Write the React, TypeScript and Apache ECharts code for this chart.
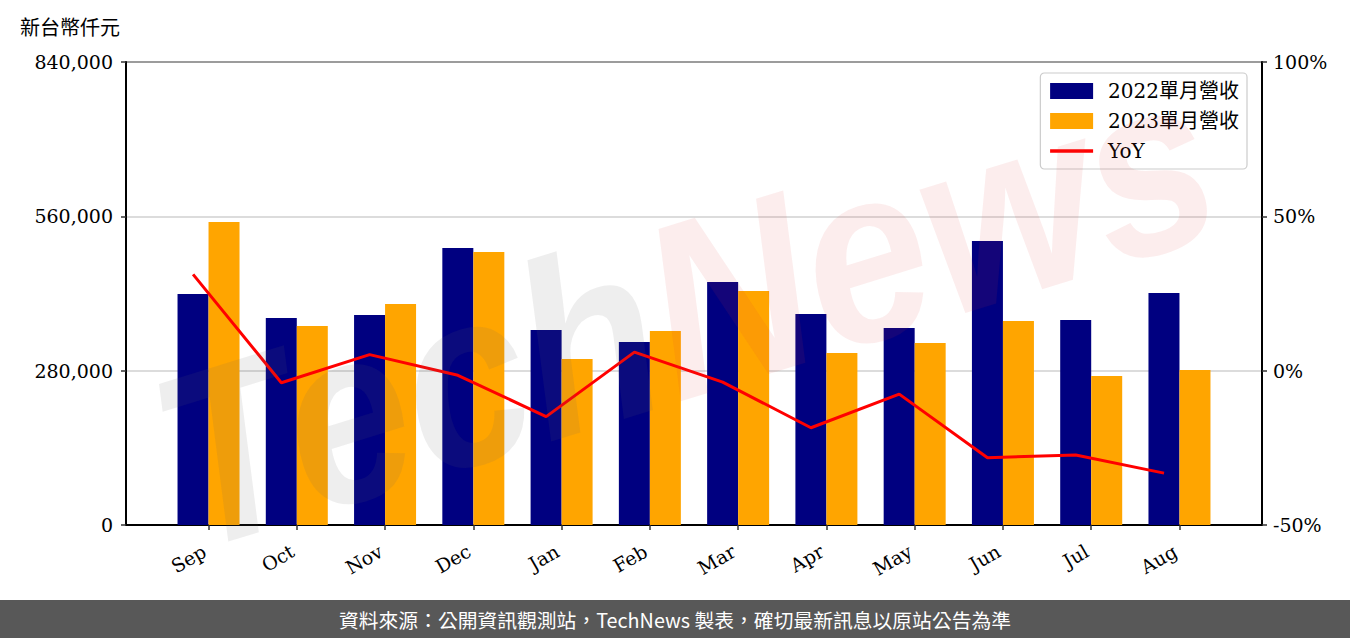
import React, { useEffect, useRef } from "react";
import * as echarts from "echarts";

const months = ["Sep", "Oct", "Nov", "Dec", "Jan", "Feb", "Mar", "Apr", "May", "Jun", "Jul", "Aug"];
const rev2022 = [419000, 375500, 381000, 502500, 353700, 332000, 440800, 382800, 357400, 515200, 371900, 420800];
const rev2023 = [549700, 361000, 400900, 495200, 301100, 351900, 424500, 312000, 330100, 370000, 270300, 281200];
const yoy = [31.2, -3.9, 5.2, -1.5, -14.9, 6.0, -3.7, -18.5, -7.6, -28.2, -27.3, -33.2];
const leftTicks = [0, 280000, 560000, 840000];
const rightTicks = [-50, 0, 50, 100];

const SERIF = "DejaVu Serif, 'Noto Sans CJK TC', serif";
const CJK = "'Noto Sans CJK TC', 'Noto Sans', sans-serif";

export default function App() {
  const ref = useRef<HTMLDivElement>(null);
  useEffect(() => {
    if (!ref.current) return;
    const chart = echarts.init(ref.current, undefined, { renderer: "svg" });
    const idx = months.map((_, i) => i);
    chart.setOption({
      animation: false,
      backgroundColor: "#fff",
      grid: {
        left: 126,
        right: 88,
        top: 62,
        bottom: 113,
        show: true,
        borderColor: "#000",
        borderWidth: 2,
        backgroundColor: "transparent",
      },
      legend: {
        orient: "vertical",
        right: 103,
        top: 73,
        padding: [8, 8, 8, 8],
        itemWidth: 43,
        itemHeight: 16,
        itemGap: 10,
        borderColor: "#ccc",
        borderWidth: 1.2,
        borderRadius: 4,
        backgroundColor: "rgba(255,255,255,0.85)",
        textStyle: { fontFamily: SERIF, fontSize: 20, color: "#000", padding: [0, 0, 0, 10] },
        data: [
          { name: "2022單月營收", icon: "rect" },
          { name: "2023單月營收", icon: "rect" },
          { name: "YoY", itemStyle: { opacity: 0 }, lineStyle: { width: 3.5, color: "#ff0000" } },
        ],
      },
      xAxis: {
        type: "value",
        min: -0.935,
        max: 11.935,
        splitLine: { show: false },
        axisLine: { show: true, onZero: false, lineStyle: { color: "#000", width: 2 } },
        axisTick: {
          show: true,
          customValues: idx,
          length: 5,
          lineStyle: { color: "#333", width: 1.5 },
        },
        axisLabel: {
          customValues: idx,
          rotate: 30,
          margin: 22,
          padding: [0, 5, 0, 0],
          fontFamily: SERIF,
          fontSize: 19,
          color: "#000",
          formatter: (v: number) => months[Math.round(v)] ?? "",
        },
      },
      yAxis: [
        {
          type: "value",
          min: 0,
          max: 840000,
          interval: 280000,
          axisLine: { show: true, onZero: false, lineStyle: { color: "#000", width: 2 } },
          axisTick: { show: true, length: 5, lineStyle: { color: "#333", width: 1.5 } },
          splitLine: { show: true, lineStyle: { color: "#d0d0d0", width: 1.6 } },
          axisLabel: {
            margin: 13,
            fontFamily: SERIF,
            fontSize: 19,
            color: "#000",
            customValues: leftTicks,
            formatter: (v: number) => v.toLocaleString("en-US"),
          },
        },
        {
          type: "value",
          min: -50,
          max: 100,
          interval: 50,
          position: "right",
          axisLine: { show: true, onZero: false, lineStyle: { color: "#000", width: 2 } },
          axisTick: { show: true, length: 5, lineStyle: { color: "#333", width: 1.5 } },
          splitLine: { show: false },
          axisLabel: {
            margin: 11,
            fontFamily: SERIF,
            fontSize: 19,
            color: "#000",
            customValues: rightTicks,
            formatter: (v: number) => `${v}%`,
          },
        },
      ],
      series: [
        {
          name: "2022單月營收",
          type: "bar",
          barWidth: 31,
          barGap: "0%",
          itemStyle: { color: "#000080" },
          data: idx.map((i) => [i, rev2022[i]]),
        },
        {
          name: "2023單月營收",
          type: "bar",
          barWidth: 31,
          barGap: "0%",
          itemStyle: { color: "#FFA500" },
          data: idx.map((i) => [i, rev2023[i]]),
        },
        {
          name: "YoY",
          type: "line",
          yAxisIndex: 1,
          symbol: "none",
          lineStyle: { color: "#ff0000", width: 3 },
          itemStyle: { color: "#ff0000" },
          z: 5,
          data: idx.map((i) => [i - 0.175, yoy[i]]),
        },
      ],
      graphic: [
        {
          type: "text",
          left: 20,
          top: 16,
          style: { text: "新台幣仟元", font: `20px ${CJK}`, fill: "#000" },
        },
        {
          type: "text",
          x: 685,
          y: 310,
          rotation: 0.3,
          scaleY: 1.12,
          silent: true,
          z: 50,
          style: {
            text: "{a|Tech}{b|News}",
            align: "center",
            verticalAlign: "middle",
            rich: {
              a: { fontSize: 222, fontStyle: "italic", fontWeight: "bold", fontFamily: "Liberation Sans", fill: "rgba(100,100,100,0.11)" },
              b: { fontSize: 222, fontStyle: "italic", fontWeight: "bold", fontFamily: "Liberation Sans", fill: "rgba(220,60,60,0.09)" },
            },
          },
        },
        {
          type: "rect",
          shape: { x: 0, y: 600, width: 1350, height: 38 },
          style: { fill: "#585858" },
          z: 60,
        },
        {
          type: "text",
          x: 675,
          y: 619,
          z: 61,
          style: {
            text: "資料來源：公開資訊觀測站，TechNews 製表，確切最新訊息以原站公告為準",
            font: `19.8px ${CJK}`,
            fill: "#fff",
            align: "center",
            verticalAlign: "middle",
          },
        },
      ],
    });
    return () => chart.dispose();
  }, []);
  return <div ref={ref} style={{ width: 1350, height: 638, position: "absolute", left: 0, top: 0 }} />;
}
